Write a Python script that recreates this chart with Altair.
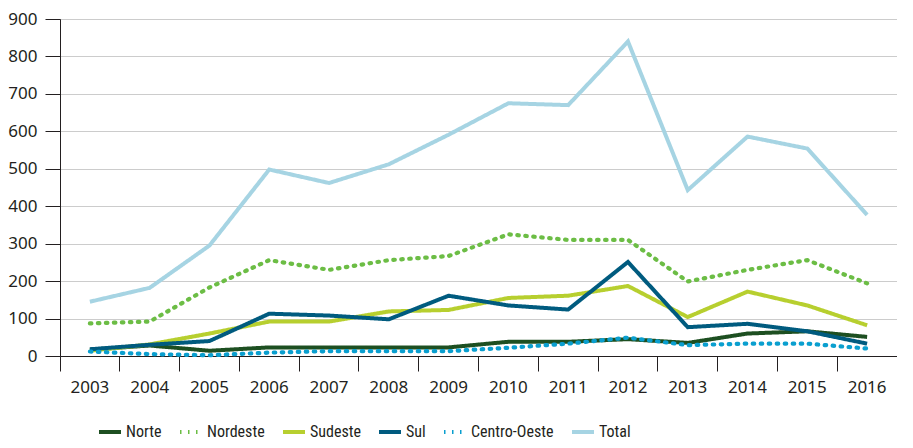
import altair as alt
import pandas as pd

years = [str(y) for y in range(2003, 2017)]
norte = [17, 28, 14, 23, 23, 23, 23, 38, 38, 45, 35, 60, 66, 51]
nordeste = [87, 92, 183, 256, 230, 256, 267, 325, 310, 310, 199, 230, 256, 194]
sudeste = [14, 31, 60, 92, 92, 119, 123, 155, 161, 187, 104, 172, 135, 82]
sul = [18, 30, 40, 113, 108, 98, 161, 135, 124, 251, 77, 86, 66, 33]
centro_oeste = [12, 5, 2, 9, 13, 13, 13, 22, 33, 49, 29, 33, 33, 20]
total = [145, 182, 295, 498, 462, 512, 591, 675, 670, 840, 443, 586, 554, 377]

series_names = ["Norte", "Nordeste", "Sudeste", "Sul", "Centro-Oeste", "Total"]
series_values = [norte, nordeste, sudeste, sul, centro_oeste, total]
colors = ["#1d4f21", "#6cbd45", "#b7cf2f", "#005b7f", "#0a9fcf", "#a6d4e3"]
dashes = [[1, 0], [1.5, 6.5], [1, 0], [1, 0], [1.5, 6.5], [1, 0]]
dotted = ["Nordeste", "Centro-Oeste"]

draw_order = ["Total", "Norte", "Sudeste", "Sul", "Nordeste", "Centro-Oeste"]
rows = []
for name in draw_order:
    vals = series_values[series_names.index(name)]
    for y, v in zip(years, vals):
        rows.append({"ano": y, "valor": v, "serie": name})
df = pd.DataFrame(rows)

W, H = 837, 337
ink = "#231f20"

legend = alt.Legend(
    title=None, orient="none", legendX=37, legendY=400, direction="horizontal",
    symbolType="stroke", symbolSize=484, symbolStrokeWidth=4,
    labelFont="Liberation Sans Narrow, Roboto Condensed, DejaVu Sans Condensed, Open Sans",
    labelFontSize=16, labelColor=ink, labelOffset=3, columnPadding=10, padding=0,
)

base = alt.Chart(df).encode(
    x=alt.X("ano:O", bandPosition=0.5, sort=years,
            scale=alt.Scale(type="band", paddingInner=0, paddingOuter=0),
            axis=alt.Axis(title=None, labelAngle=0, bandPosition=0,
                          tickSize=15, tickColor=ink, domainColor=ink, grid=False,
                          labelFont="Noto Sans", labelFontSize=17, labelColor=ink,
                          labelPadding=8)),
    y=alt.Y("valor:Q", scale=alt.Scale(domain=[0, 900], nice=False),
            axis=alt.Axis(title=None, values=list(range(0, 901, 100)), tickSize=15,
                          tickColor=ink, domainColor=ink, grid=True, gridColor="#cccccc",
                          labelFont="Noto Sans", labelFontSize=17, labelColor=ink,
                          labelPadding=8)),
    color=alt.Color("serie:N", scale=alt.Scale(domain=series_names, range=colors), legend=legend),
    strokeDash=alt.StrokeDash("serie:N", scale=alt.Scale(domain=series_names, range=dashes), legend=legend),
)

solid = base.transform_filter(
    alt.FieldOneOfPredicate(field="serie", oneOf=[s for s in series_names if s not in dotted])
).mark_line(strokeWidth=4)
dots = base.transform_filter(
    alt.FieldOneOfPredicate(field="serie", oneOf=dotted)
).mark_line(strokeWidth=4.2, strokeCap="round")

chart = alt.layer(solid, dots).properties(
    width=W, height=H,
    autosize=alt.AutoSizeParams(type="none"),
    padding={"left": 52, "top": 11, "right": 0, "bottom": 84},
).configure_view(stroke="#777777", strokeWidth=1)

chart.save("out.html", embed_options={"renderer": "svg", "actions": False})
